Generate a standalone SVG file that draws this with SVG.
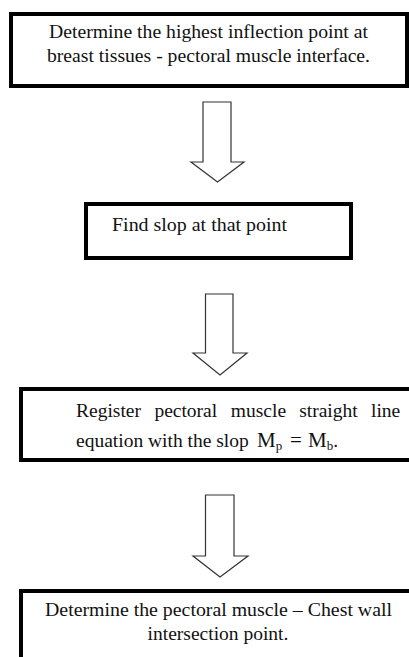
<svg xmlns="http://www.w3.org/2000/svg" width="409" height="657" viewBox="0 0 409 657">
  <style>
    .box { fill: #ffffff; stroke: #000000; stroke-width: 4; }
    .arrow { fill: #ffffff; stroke: #333333; stroke-width: 1.2; stroke-linejoin: miter; }
    .t { font-family: "Liberation Serif", "Times New Roman", serif; font-size: 19.5px; fill: #111111; }
    .c { text-anchor: middle; }
    .big { font-size: 21px; }
    .sub { font-size: 13px; }
  </style>
  <rect width="409" height="657" fill="#ffffff"/>

  <g id="step1">
    <rect class="box" x="11" y="14" width="396" height="72"/>
    <text class="t" x="49" y="38" textLength="319" lengthAdjust="spacingAndGlyphs">Determine the highest inflection point at</text>
    <text class="t" x="47" y="62" textLength="323" lengthAdjust="spacingAndGlyphs">breast tissues - pectoral muscle interface.</text>
  </g>

  <g id="step2">
    <rect class="box" x="86" y="204" width="265" height="54"/>
    <text class="t" x="112" y="231" textLength="175" lengthAdjust="spacingAndGlyphs">Find slop at that point</text>
  </g>

  <g id="step3">
    <rect class="box" x="21" y="389" width="400" height="71"/>
    <!-- justified first line: words placed with equal gaps -->
    <text class="t" y="417"><tspan x="76">Register</tspan><tspan x="154.4">pectoral</tspan><tspan x="230.8">muscle</tspan><tspan x="299.2">straight</tspan><tspan x="371">line</tspan></text>
    <text class="t" y="447"><tspan x="76">equation with the slop</tspan><tspan class="big" x="257">M</tspan><tspan class="sub" dy="3">p</tspan><tspan class="big" x="290" dy="-3">=</tspan><tspan class="big" x="308">M</tspan><tspan class="sub" dy="3">b</tspan><tspan dy="-3">.</tspan></text>
  </g>

  <g id="step4">
    <rect class="box" x="21" y="591" width="400" height="100"/>
    <text class="t" x="45" y="616" textLength="347" lengthAdjust="spacingAndGlyphs">Determine the pectoral muscle – Chest wall</text>
    <text class="t c" x="218" y="640">intersection point.</text>
  </g>

  <g id="connectors">
    <polygon class="arrow" points="203,102 231,102 231,162 244,162 217.5,182 191,162 203,162"/>
    <polygon class="arrow" points="205.5,294 233,294 233,353 247,353 220,375 193,353 205.5,353"/>
    <polygon class="arrow" points="205.5,495 234,495 234,556 248,556 220,577 193,556 205.5,556"/>
  </g>
</svg>
